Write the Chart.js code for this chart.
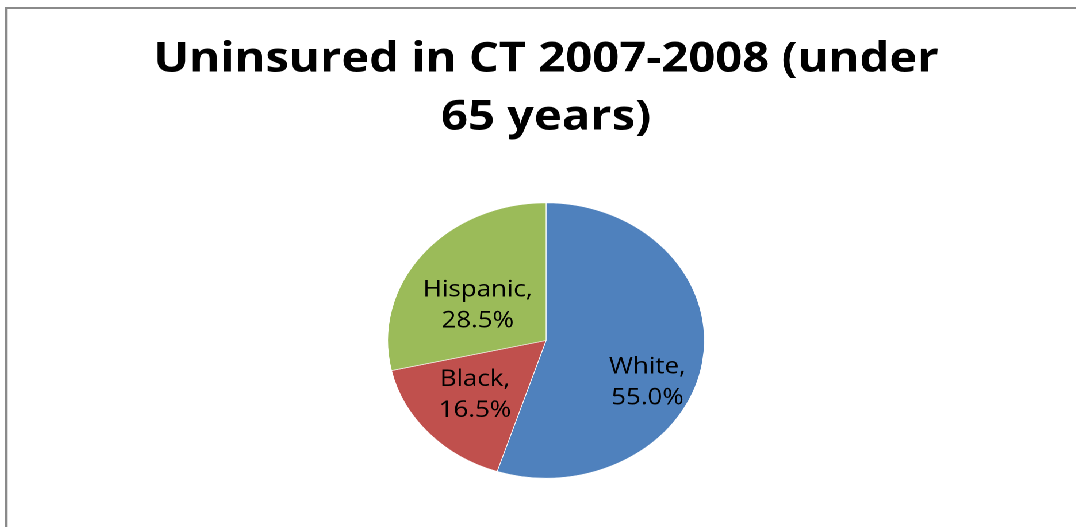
<!DOCTYPE html>
<html>
<head>
<meta charset="utf-8">
<script src="https://cdn.jsdelivr.net/npm/chart.js@4.4.1/dist/chart.umd.min.js"></script>
<style>
  html, body { margin: 0; padding: 0; background: #ffffff; overflow: hidden; width: 1076px; height: 527px; }
  #frame {
    position: absolute; left: 5px; top: 7px;
    width: 937px; height: 518px;
    border-left: 2px solid #8a8a8a; border-top: 2px solid #8a8a8a;
    transform: scaleX(1.15); transform-origin: 0 0;
  }
  #box { position: relative; width: 937px; height: 518px; }
</style>
</head>
<body>
<div id="frame"><div id="box"><canvas id="c"></canvas></div></div>
<script>
const titleLines = ["Uninsured in CT 2007-2008 (under", "65 years)"];
const categories = ["White", "Black", "Hispanic"];
const shares = [55.0, 16.5, 28.5];
const sliceColors = ["#4F81BD", "#C0504D", "#9BBB59"];
// label placement inside each slice: fraction along the slice's angle span, fraction of radius
const labelAlong = [0.584, 0.513, 0.418];
const labelRadial = [0.71, 0.60, 0.50];

const sliceLabels = {
  id: 'sliceLabels',
  afterDatasetsDraw(chart) {
    const ctx = chart.ctx;
    const meta = chart.getDatasetMeta(0);
    ctx.save();
    ctx.font = '22.5px "Open Sans"';
    ctx.fillStyle = '#000000';
    ctx.textAlign = 'center';
    ctx.textBaseline = 'middle';
    meta.data.forEach((arc, i) => {
      const p = arc.getProps(['x', 'y', 'startAngle', 'endAngle', 'outerRadius'], true);
      const a = p.startAngle + labelAlong[i] * (p.endAngle - p.startAngle);
      const r = p.outerRadius * labelRadial[i];
      const x = p.x + Math.cos(a) * r;
      const y = p.y + Math.sin(a) * r;
      const lines = [categories[i] + ',', shares[i].toFixed(1) + '%'];
      ctx.fillText(lines[0], x, y - 15.5);
      ctx.fillText(lines[1], x, y + 15.5);
    });
    ctx.restore();
  }
};

new Chart(document.getElementById('c'), {
  type: 'pie',
  data: {
    labels: categories,
    datasets: [{
      data: shares,
      backgroundColor: sliceColors,
      borderColor: '#ffffff',
      borderWidth: 0.6
    }]
  },
  options: {
    responsive: true,
    maintainAspectRatio: false,
    animation: false,
    devicePixelRatio: 2,
    layout: { padding: { top: 0, bottom: 48.5, left: 0, right: 0 } },
    plugins: {
      legend: { display: false },
      tooltip: { enabled: false },
      title: {
        display: true,
        text: titleLines,
        color: '#000000',
        font: { family: '"Open Sans"', weight: 'bold', size: 41, lineHeight: 1.415 },
        padding: { top: 22, bottom: 55.5 }
      }
    }
  },
  plugins: [sliceLabels]
});
</script>
</body>
</html>
